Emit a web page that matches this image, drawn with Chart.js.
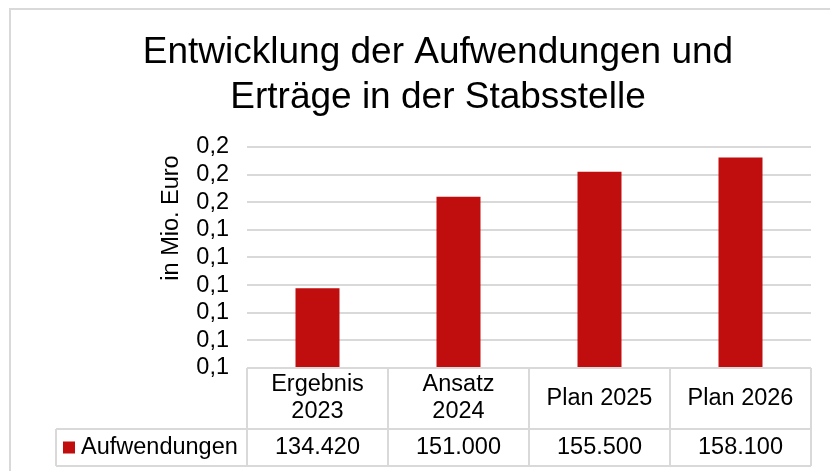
<!DOCTYPE html>
<html><head><meta charset="utf-8">
<script src="https://cdn.jsdelivr.net/npm/chart.js@4/dist/chart.umd.min.js"></script>
<style>html,body{margin:0;padding:0;background:#fff}canvas{display:block}</style>
</head><body><canvas id="c" width="830" height="471"></canvas>
<script>
const titleLines = ['Entwicklung der Aufwendungen und', 'Erträge in der Stabsstelle'];
const categories = [['Ergebnis', '2023'], ['Ansatz', '2024'], ['Plan 2025'], ['Plan 2026']];
const seriesName = 'Aufwendungen';
const aufwendungenEuro = [134420, 151000, 155500, 158100];
const tableLabels = ['134.420', '151.000', '155.500', '158.100'];
const yTickLabels = ['0,1', '0,1', '0,1', '0,1', '0,1', '0,1', '0,2', '0,2', '0,2'];
const yAxisTitle = 'in Mio. Euro';
const yMin = 0.12, yMax = 0.16, yStep = 0.005;

const FONT = '"Liberation Sans", Arial, sans-serif';
const GRID = '#d9d9d9';
const BAR = '#C00D0D';
const FS = 23.5;

const decor = {
  id: 'decor',
  beforeDraw(chart) {
    const ctx = chart.ctx;
    ctx.save();
    ctx.fillStyle = '#fff';
    ctx.fillRect(0, 0, chart.width, chart.height);
    ctx.strokeStyle = GRID;
    ctx.lineWidth = 2;
    ctx.strokeRect(10, 9, chart.width + 20, chart.height + 20);
    ctx.restore();
  },
  afterDraw(chart) {
    const ctx = chart.ctx, xs = chart.scales.x, ca = chart.chartArea;
    const n = categories.length, cw = (ca.right - ca.left) / n;
    const headTop = ca.bottom, headBot = ca.bottom + 61, rowBot = headBot + 37, tableLeft = 56;
    ctx.save();
    // title
    ctx.fillStyle = '#000';
    ctx.textAlign = 'center';
    ctx.textBaseline = 'middle';
    ctx.font = '37px ' + FONT;
    titleLines.forEach((t, i) => ctx.fillText(t, 438, 53 + i * 45));
    // y axis title
    ctx.save();
    ctx.translate(172, ca.top + 71);
    ctx.rotate(-Math.PI / 2);
    ctx.font = FS + 'px ' + FONT;
    ctx.fillText(yAxisTitle, 0, 0);
    ctx.restore();
    // table lines
    ctx.strokeStyle = GRID;
    ctx.lineWidth = 2;
    ctx.beginPath();
    ctx.moveTo(ca.left, headTop); ctx.lineTo(ca.right, headTop);
    ctx.moveTo(tableLeft, headBot); ctx.lineTo(ca.right, headBot);
    ctx.moveTo(tableLeft, rowBot); ctx.lineTo(ca.right, rowBot);
    ctx.moveTo(tableLeft, headBot); ctx.lineTo(tableLeft, rowBot);
    for (let i = 0; i <= n; i++) {
      const bx = ca.left + i * cw;
      ctx.moveTo(bx, headTop); ctx.lineTo(bx, rowBot);
    }
    ctx.stroke();
    // header texts
    ctx.font = FS + 'px ' + FONT;
    ctx.fillStyle = '#000';
    categories.forEach((lab, i) => {
      const cx = xs.getPixelForValue(i);
      const lines = Array.isArray(lab) ? lab : [lab];
      const lh = 27;
      const mid = (headTop + headBot) / 2;
      lines.forEach((l, j) => {
        ctx.fillText(l, cx, mid + (j - (lines.length - 1) / 2) * lh);
      });
      ctx.fillText(tableLabels[i], cx, (headBot + rowBot) / 2);
    });
    // legend key
    ctx.fillStyle = BAR;
    ctx.fillRect(63, (headBot + rowBot) / 2 - 6, 12, 12);
    ctx.fillStyle = '#000';
    ctx.textAlign = 'left';
    ctx.fillText(seriesName, 81, (headBot + rowBot) / 2);
    ctx.restore();
  }
};

new Chart(document.getElementById('c'), {
  type: 'bar',
  data: {
    labels: categories,
    datasets: [{
      label: seriesName,
      data: aufwendungenEuro.map(v => v / 1e6),
      backgroundColor: BAR,
      borderWidth: 0,
      barPercentage: 0.312,
      categoryPercentage: 1
    }]
  },
  options: {
    responsive: false,
    animation: false,
    devicePixelRatio: 1,
    layout: { padding: { left: 0, right: 19, top: 147, bottom: 103 } },
    plugins: { legend: { display: false }, title: { display: false }, tooltip: { enabled: false } },
    scales: {
      x: { display: false },
      y: {
        min: yMin, max: yMax,
        afterFit(s) { s.width = 247; },
        border: { display: false },
        grid: { color: GRID, lineWidth: 2, drawTicks: false },
        ticks: {
          stepSize: yStep,
          autoSkip: false,
          maxTicksLimit: 20,
          padding: 18,
          color: '#000',
          font: { family: FONT, size: FS },
          callback: (v, i) => yTickLabels[i]
        }
      }
    }
  },
  plugins: [decor]
});
</script>
</body></html>
